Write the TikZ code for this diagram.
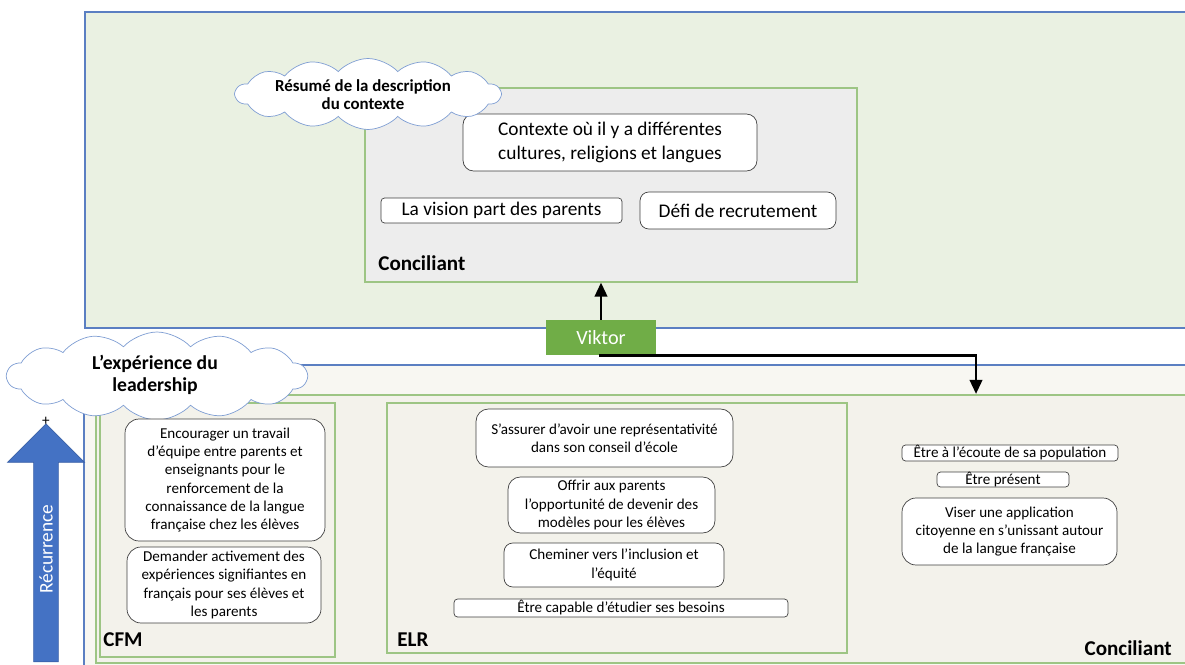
\documentclass[tikz,border=0pt]{standalone}
\usepackage{fontspec}
\setmainfont{Carlito}
\usetikzlibrary{arrows.meta,positioning,shapes.symbols,shapes.arrows,fit}
\definecolor{FrameBlue}{HTML}{5B7FC2}
\definecolor{ZoneGreen}{HTML}{EAF1E2}
\definecolor{ZoneCream}{HTML}{F8F7F2}
\definecolor{PanelCream}{HTML}{F3F2EB}
\definecolor{PanelEdge}{HTML}{9DC584}
\definecolor{GreyFill}{HTML}{EDEDED}
\definecolor{ViktorGreen}{HTML}{70AD47}
\definecolor{ArrowBlue}{HTML}{4472C4}
\definecolor{CloudEdge}{HTML}{7F9ED3}
\newcommand{\smallitem}{\fontsize{8.6}{10.4}\selectfont}
\newcommand{\bigitem}{\fontsize{11}{13.4}\selectfont}
\tikzset{
  zone/.style={draw=FrameBlue, line width=0.6pt, inner sep=0pt},
  panel/.style={draw=PanelEdge, line width=0.6pt, inner sep=0pt},
  itembox/.style={draw=black!75, fill=white, rounded corners=5pt, align=center, inner sep=1pt, font=\smallitem},
  flatbox/.style={itembox, rounded corners=2pt},
  tag/.style={font=\fontsize{12}{14}\selectfont\bfseries, inner sep=0pt},
  bubble/.style={cloud, cloud puffs=14, cloud puff arc=95, draw=CloudEdge, fill=white, inner sep=0pt},
  bubbletext/.style={align=center, inner sep=0pt}
}
\tikzset{arrow/.style={-{Triangle[length=8pt,width=7pt]}, line width=1.6pt, draw=black}}

\begin{document}
\begin{tikzpicture}[x=0.02cm, y=-0.02cm]
  \useasboundingbox (0,0) rectangle (1185,665);
  % context zone
  \node[zone, fill=ZoneGreen, fit={(85,12) (1192,328)}] (ctxzone) {};
  \node[panel, fill=GreyFill, fit={(365,88) (857,282)}] (ctxpanel) {};
  \node[itembox, font=\bigitem, rounded corners=6pt, minimum width=5.88cm, minimum height=1.14cm] (cultures) at (610,142.5) {Contexte où il y a différentes\\cultures, religions et langues};
  \node[flatbox, font=\bigitem, minimum width=4.82cm, minimum height=0.5cm] (vision) at (501.5,210.5) {La vision part des parents};
  \node[itembox, font=\bigitem, minimum width=3.92cm, minimum height=0.74cm] (defi) at (738,210.5) {Défi de recrutement};
  \node[tag, anchor=west] (ctxtag) at (378,263) {Conciliant};
  \node[bubble, minimum width=5.3cm, minimum height=1.42cm] (resume) at (368,94) {};
  \node[bubbletext, font=\fontsize{9.6}{10.3}\selectfont\bfseries] (resumetext) at (363,95) {Résumé de la description\\du contexte};

  % leadership zone
  \node[zone, fill=ZoneCream, fit={(84,365) (1192,672)}] (leadzone) {};
  \node[panel, fill=PanelCream, fit={(96,395) (1192,663)}] (leadpanel) {};
  \node[panel, fill=PanelCream, fit={(100,403) (335,657)}] (cfm) {};
  \node[panel, fill=PanelCream, fit={(387,403) (847,653)}] (elr) {};
  \node[bubble, minimum width=6cm, minimum height=1.76cm] (lead) at (157,376) {};
  \node[bubbletext, font=\fontsize{11.2}{12.3}\selectfont\bfseries] (leadtext) at (155,375) {L’expérience du\\leadership};

  \node[itembox, rounded corners=8pt, minimum width=4cm, minimum height=2.44cm] (equipe) at (225,480) {Encourager un travail\\d’équipe entre parents et\\enseignants pour le\\renforcement de la\\connaissance de la langue\\française chez les élèves};
  \node[itembox, rounded corners=8pt, minimum width=3.88cm, minimum height=1.52cm] (demander) at (224,585) {Demander activement des\\expériences signifiantes en\\français pour ses élèves et\\les parents};
  \node[tag, anchor=west] (cfmtag) at (103,640) {CFM};

  \node[itembox, rounded corners=7pt, minimum width=5.14cm, minimum height=1.16cm] (conseil) at (604.5,438) {S’assurer d’avoir une représentativité\\dans son conseil d’école};
  \node[itembox, rounded corners=7pt, minimum width=4.14cm, minimum height=1.12cm] (modeles) at (611.5,505) {Offrir aux parents\\l’opportunité de devenir des\\modèles pour les élèves};
  \node[itembox, minimum width=4.4cm, minimum height=0.88cm] (inclusion) at (614,565) {Cheminer vers l’inclusion et\\l’équité};
  \node[flatbox, minimum width=6.68cm, minimum height=0.36cm, inner sep=0pt] (besoins) at (621,608) {Être capable d’étudier ses besoins};
  \node[tag, anchor=west] (elrtag) at (397,640) {ELR};

  \node[flatbox, minimum width=4.32cm, minimum height=0.32cm, inner sep=0pt] (ecoute) at (1010,453) {Être à l’écoute de sa population};
  \node[flatbox, minimum width=2.64cm, minimum height=0.3cm, inner sep=0pt] (present) at (1003,479.5) {Être présent};
  \node[itembox, rounded corners=8pt, minimum width=4.3cm, minimum height=1.34cm] (viser) at (1009.5,531.5) {Viser une application\\citoyenne en s’unissant autour\\de la langue française};
  \node[tag, anchor=east] (conctag) at (1172,648) {Conciliant};

  % recurrence
  \node[single arrow, rotate=90, fill=ArrowBlue, draw=ArrowBlue!85!black, text=white, font=\bigitem,
        minimum height=4.76cm, minimum width=1.54cm, single arrow head extend=0.37cm, inner sep=1pt] (recur) at (46,549) {Récurrence};
  \node[font=\smallitem, inner sep=0pt] (plus) at (46,421) {+};

  \node[fill=ViktorGreen, text=white, font=\fontsize{11.5}{13}\selectfont, minimum width=2.2cm, minimum height=0.7cm] (viktor) at (601,337.5) {Viktor};
  \coordinate (concin) at (976,394);

  \draw[arrow] (viktor.north) -- (viktor.north |- ctxpanel.south);
  \draw[arrow] ([xshift=-1pt]viktor.south) -| (concin);
\end{tikzpicture}
\end{document}
